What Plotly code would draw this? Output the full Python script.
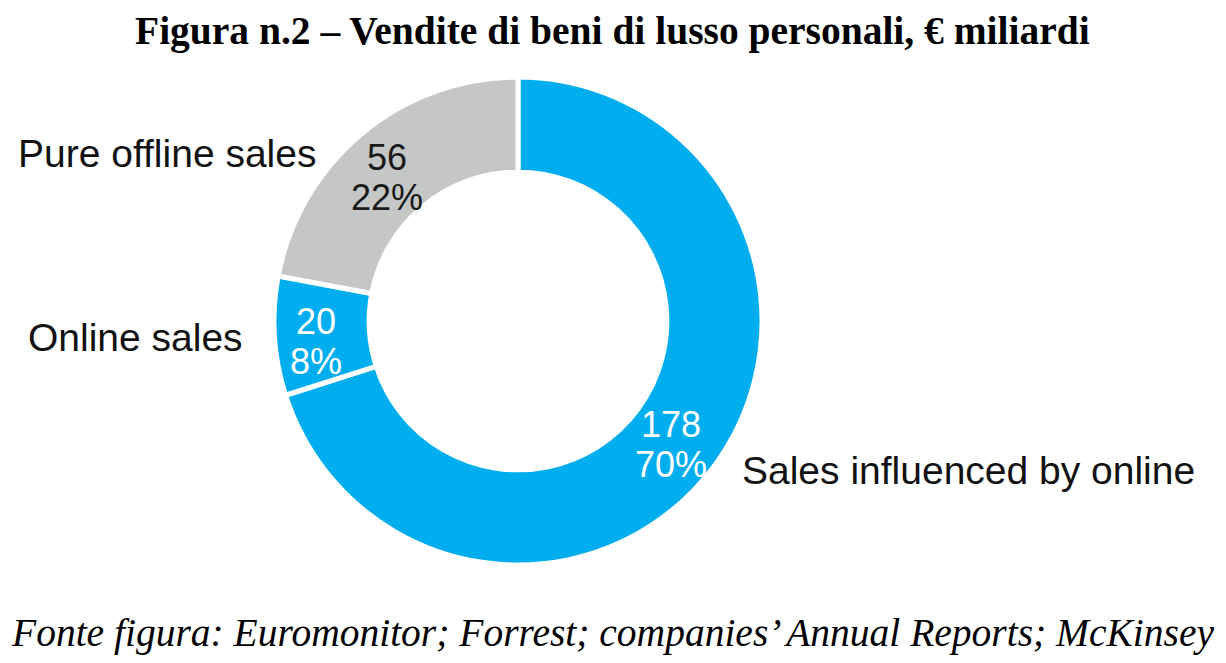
import math
import plotly.graph_objects as go

categories = ["Sales influenced by online", "Online sales", "Pure offline sales"]
values = [178, 20, 56]
colors = ["#00AEEF", "#00AEEF", "#C5C7C6"]
text_colors = ["white", "white", "#1a1a1a"]

title = "<b>Figura n.2 – Vendite di beni di lusso personali, € miliardi</b>"
source = "<i>Fonte figura: Euromonitor; Forrest; companies’ Annual Reports; McKinsey</i>"

W, H = 1226, 663
cx, cy, R = 518, 321, 244
HOLE = 0.61

fig = go.Figure(go.Pie(
    labels=categories,
    values=values,
    sort=False,
    direction="clockwise",
    rotation=0,
    hole=HOLE,
    marker=dict(colors=colors, line=dict(color="white", width=5)),
    textinfo="none",
    showlegend=False,
    hoverinfo="label+value+percent",
    domain=dict(x=[(cx - R) / W, (cx + R) / W], y=[1 - (cy + R) / H, 1 - (cy - R) / H]),
))

annotations = []

# slice labels (value + percent) placed at the middle of each slice's ring
total = sum(values)
cum = 0
slice_font = "Liberation Sans, Arial, sans-serif"
for v, tc in zip(values, text_colors):
    mid = (cum + v / 2) / total * 2 * math.pi
    cum += v
    rr = R * (1 + HOLE) / 2
    px = cx + rr * math.sin(mid) - 6
    py = cy - rr * math.cos(mid) + 8
    pct = round(v / total * 100)
    annotations.append(dict(text=str(v), x=px / W, y=1 - (py - 20) / H,
                            xref="paper", yref="paper", showarrow=False,
                            xanchor="center", yanchor="middle",
                            font=dict(family=slice_font, size=36, color=tc)))
    annotations.append(dict(text=f"{pct}%", x=px / W, y=1 - (py + 20) / H,
                            xref="paper", yref="paper", showarrow=False,
                            xanchor="center", yanchor="middle",
                            font=dict(family=slice_font, size=36, color=tc)))

label_font = dict(family="Liberation Sans, Arial, sans-serif", size=39, color="#111111")
ann = [
    dict(text=categories[2], x=318 / W, y=1 - 153 / H, xanchor="right", yanchor="middle"),
    dict(text=categories[1], x=245 / W, y=1 - 337 / H, xanchor="right", yanchor="middle"),
    dict(text=categories[0], x=740 / W, y=1 - 470 / H, xanchor="left", yanchor="middle"),
]
annotations += [dict(xref="paper", yref="paper", showarrow=False, font=label_font, **a) for a in ann]
annotations.append(dict(text=title, xref="paper", yref="paper", x=612 / W, y=1 - 31 / H,
                        xanchor="center", yanchor="middle", showarrow=False,
                        font=dict(family="Liberation Serif, Times New Roman, serif", size=39.5, color="black")))
annotations.append(dict(text=source, xref="paper", yref="paper", x=612 / W, y=1 - 633 / H,
                        xanchor="center", yanchor="middle", showarrow=False,
                        font=dict(family="Liberation Serif, Times New Roman, serif", size=39.5, color="black")))

fig.update_layout(
    width=W, height=H,
    margin=dict(l=0, r=0, t=0, b=0),
    paper_bgcolor="white", plot_bgcolor="white",
    annotations=annotations,
)

fig.write_html("out.html")
